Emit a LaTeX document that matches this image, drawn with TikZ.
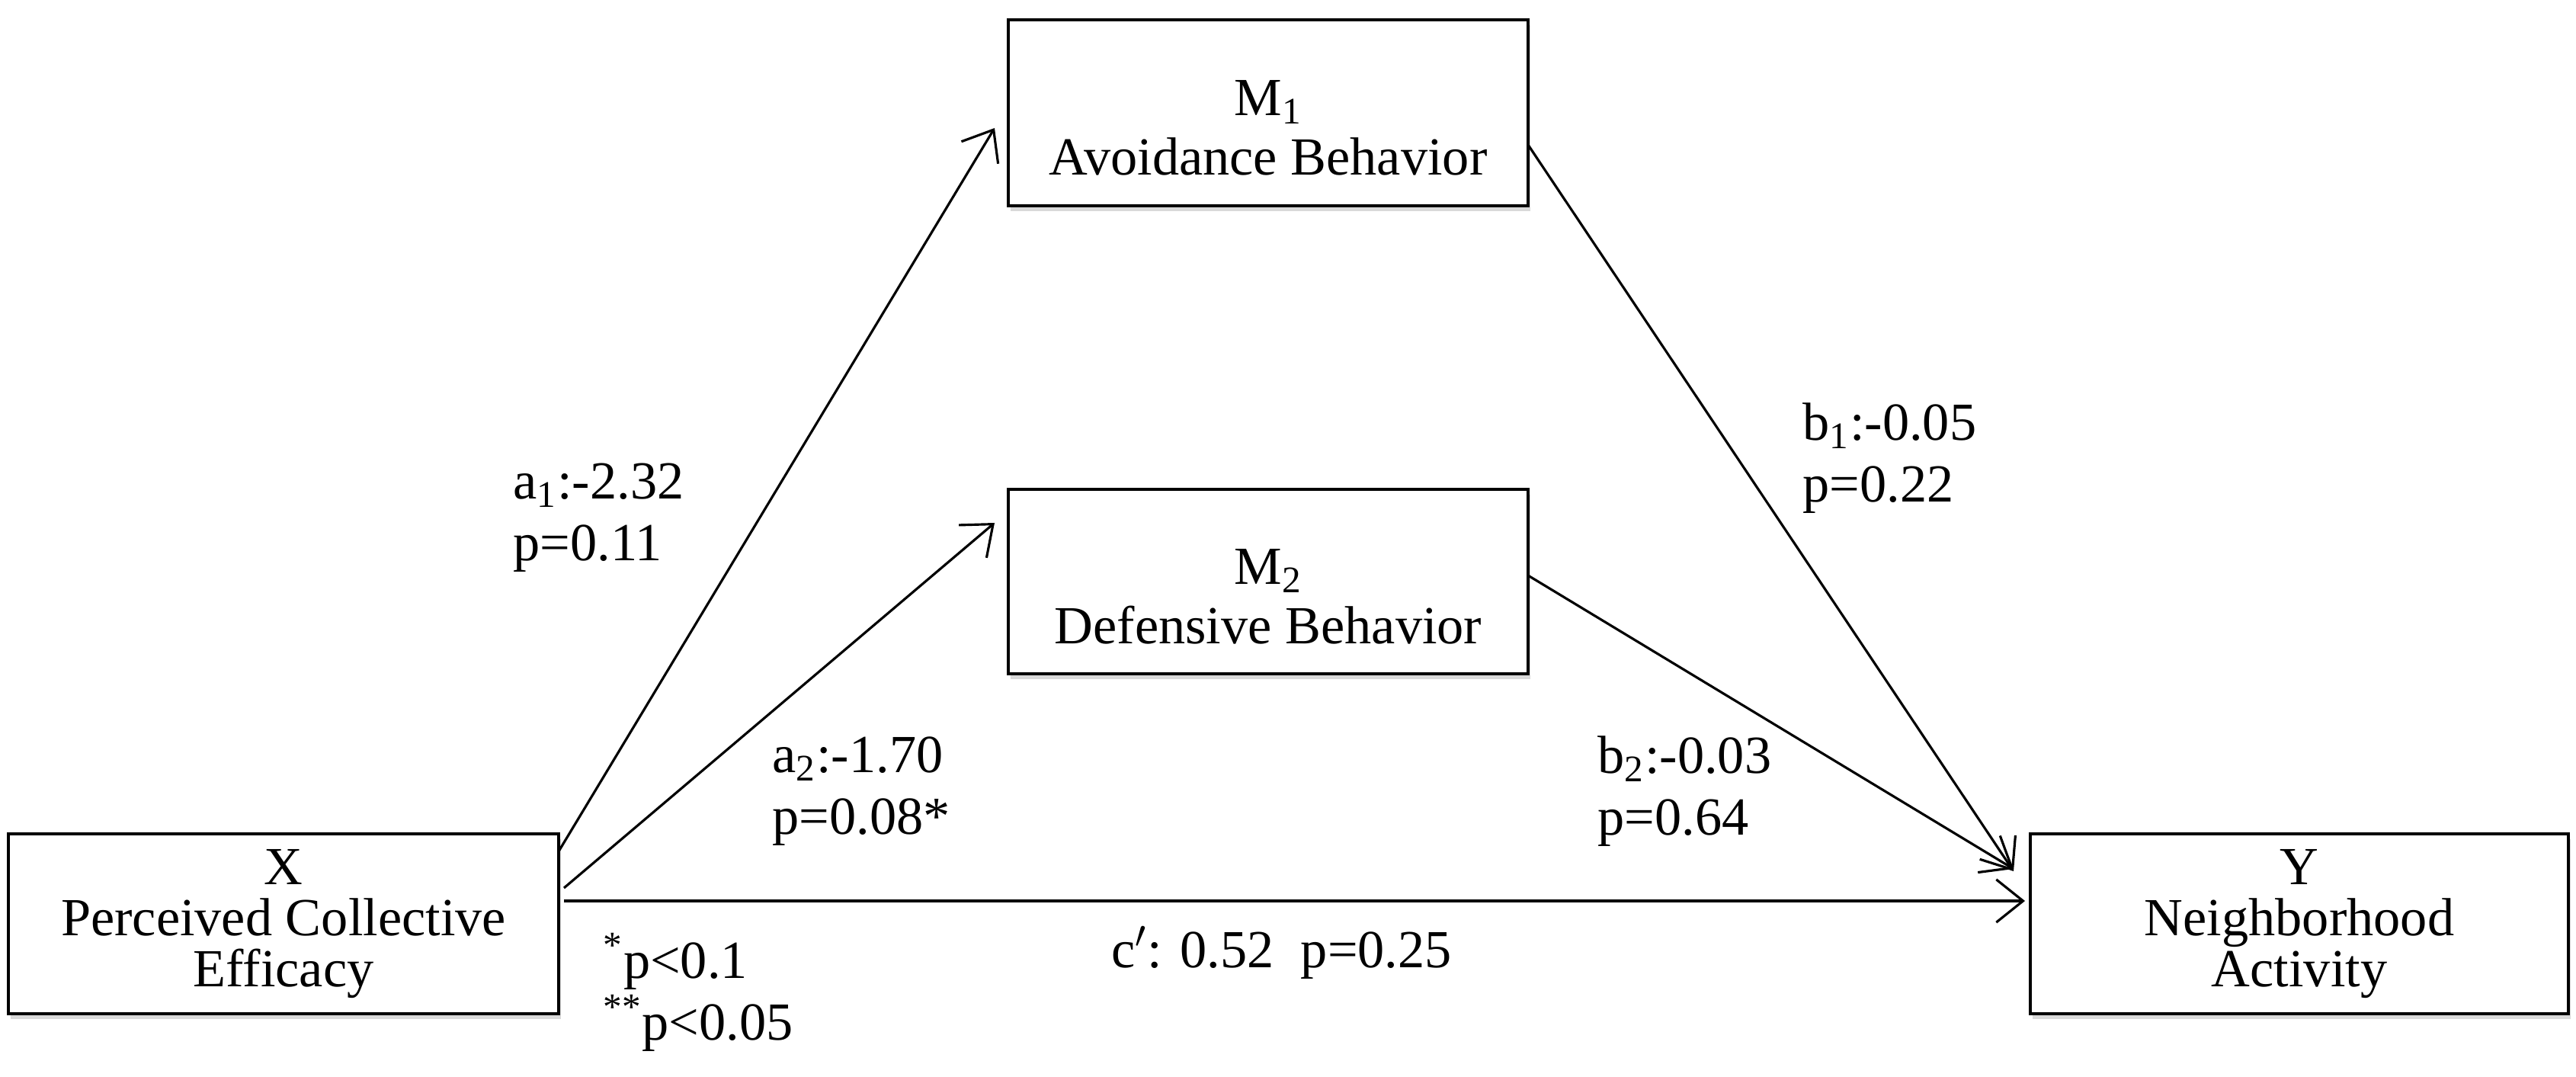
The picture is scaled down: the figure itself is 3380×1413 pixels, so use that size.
\documentclass[tikz,border=0pt]{standalone}
\usepackage{fontspec}
\setmainfont{Liberation Serif}
\usetikzlibrary{arrows.meta,shadows}
\begin{document}
\begin{tikzpicture}[x=0.01cm,y=-0.01cm,
  box/.style={draw,line width=1.1pt,fill=white,align=center,inner sep=0pt,
    drop shadow={shadow xshift=0.8pt,shadow yshift=-2pt,opacity=0.3},
    font=\fontsize{20}{19}\selectfont},
  mbox/.style={box,font=\fontsize{20}{21}\selectfont,text depth=-4pt},
  lab/.style={anchor=west,align=left,font=\fontsize{20}{23}\selectfont,inner sep=0pt},
  arr/.style={line width=0.9pt,-{Straight Barb[length=10pt,width=16pt,line width=0.9pt]}}]
\useasboundingbox (0,0) rectangle (3380,1413);
\node[box,minimum width=7.22cm,minimum height=2.35cm] (X) at (372,1212) {X\\Perceived Collective\\Efficacy};
\node[box,minimum width=6.81cm,minimum height=2.44cm] (M1) at (1664,148) {};
\node[box,minimum width=6.81cm,minimum height=2.42cm] (M2) at (1664,763) {};
\node[align=center,font=\fontsize{20}{22}\selectfont] (M1t) at (1664,168) {M\textsubscript{1}\\Avoidance Behavior};
\node[align=center,font=\fontsize{20}{22}\selectfont] (M2t) at (1664,783) {M\textsubscript{2}\\Defensive Behavior};
\node[box,minimum width=7.05cm,minimum height=2.35cm] (Y) at (3017,1212) {Y\\Neighborhood\\Activity};
\coordinate (a1s) at (733,1117); \coordinate (a1e) at (1305,168);
\coordinate (a2s) at (740,1165); \coordinate (a2e) at (1305,686);
\coordinate (cs) at (740,1182); \coordinate (ce) at (2657,1182);
\coordinate (b1s) at (2005,190); \coordinate (b1e) at (2642,1143);
\coordinate (b2s) at (2005,755); \coordinate (b2e) at (2642,1140);
\draw[arr] (a1s) -- (a1e);
\draw[arr] (a2s) -- (a2e);
\draw[arr] (cs) -- (ce);
\draw[arr] (b1s) -- (b1e);
\draw[arr] (b2s) -- (b2e);
\node[lab] (la1) at (673,679) {a\textsubscript{1}:-2.32\\p=0.11};
\node[lab] (la2) at (1013,1038) {a\textsubscript{2}:-1.70\\p=0.08*};
\node[lab] (lb1) at (2365,601) {b\textsubscript{1}:-0.05\\p=0.22};
\node[lab] (lb2) at (2096,1038) {b\textsubscript{2}:-0.03\\p=0.64};
\node[lab] (lc) at (1458,1250) {c$'$: 0.52\ \ p=0.25};
\node[lab] (ln) at (791,1302) {\textsuperscript{*}p<0.1\\\textsuperscript{**}p<0.05};
\end{tikzpicture}
\end{document}
